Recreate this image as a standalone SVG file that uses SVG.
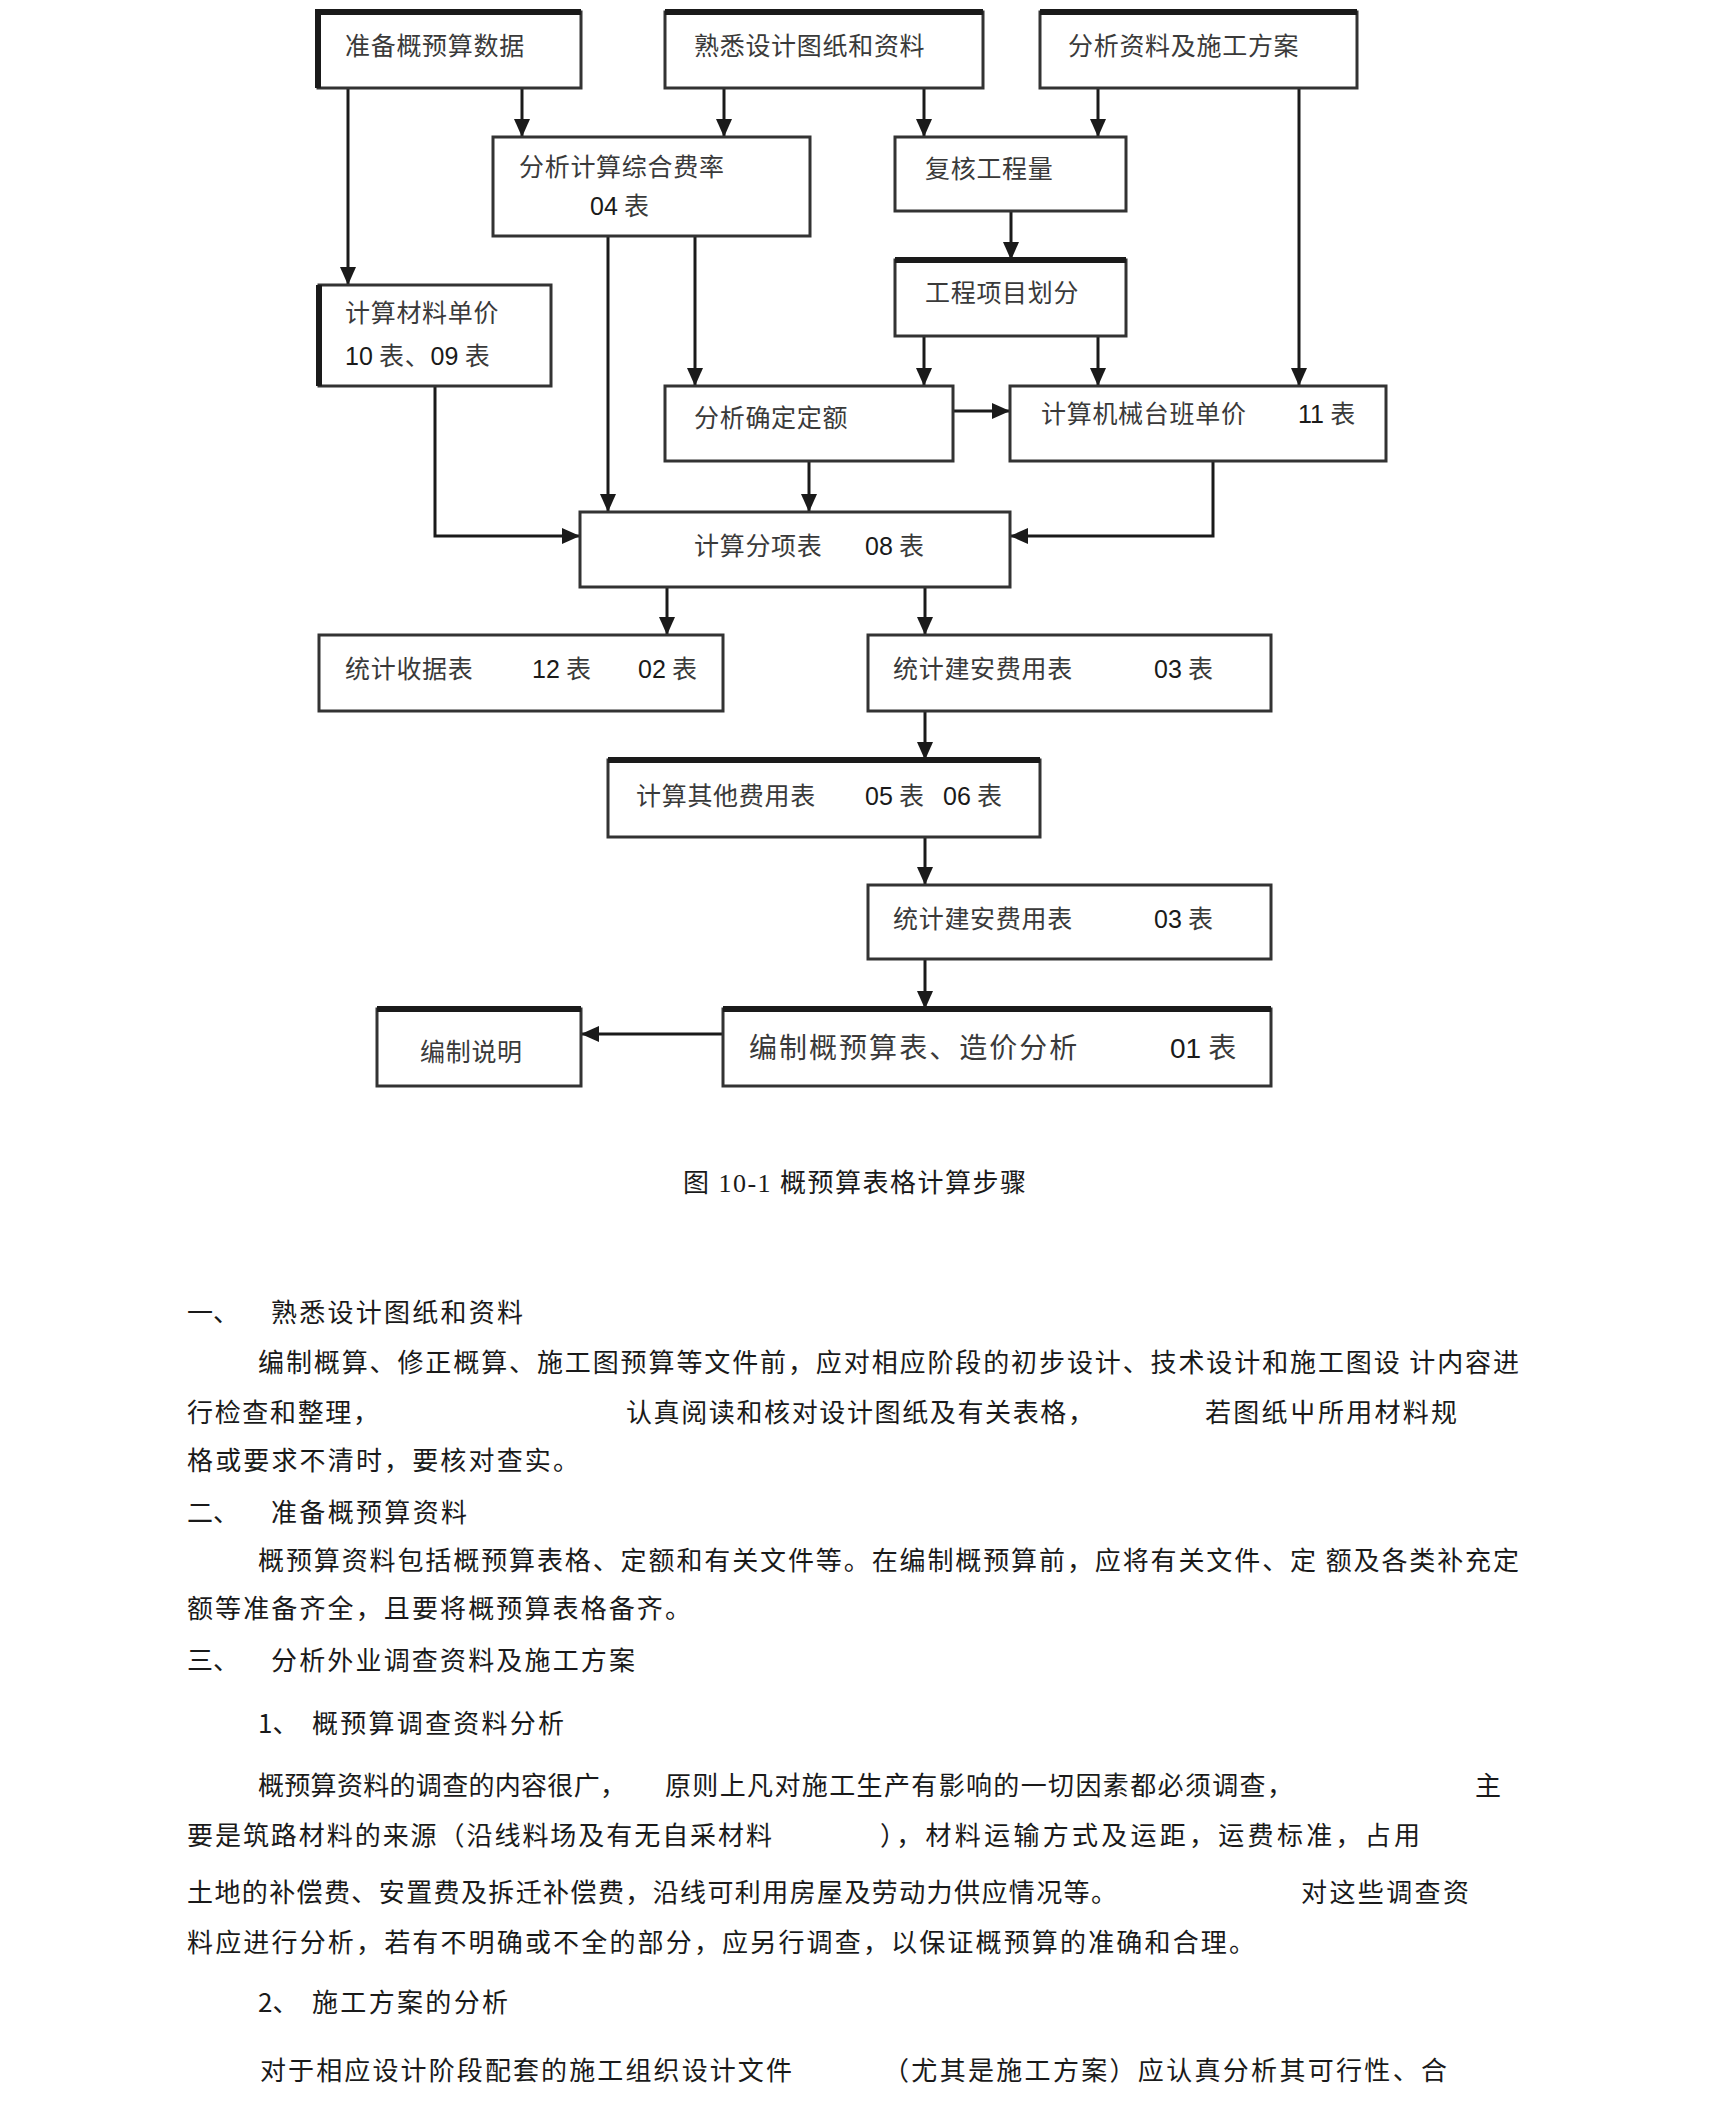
<svg xmlns="http://www.w3.org/2000/svg" width="1720" height="2112" viewBox="0 0 1720 2112">
<defs>
<marker id="ah" viewBox="0 0 18 16" refX="18" refY="8" markerWidth="18" markerHeight="16" markerUnits="userSpaceOnUse" orient="auto">
<path d="M0,0 L18,8 L0,16 z" fill="#1a1a1a"/>
</marker>
<style>
.box{fill:#fff;stroke:#333;stroke-width:3}
.thk{stroke:#1a1a1a;stroke-width:6;fill:none}
.t{font-family:"Noto Sans CJK SC","Noto Sans",sans-serif;font-size:25px;fill:#3a3a3a;letter-spacing:0.7px}
.d{font-family:"Liberation Sans","Noto Sans",sans-serif;fill:#1a1a1a;letter-spacing:0}
.c{fill:none;stroke:#1a1a1a;stroke-width:3;marker-end:url(#ah)}
.b{font-family:"Noto Sans CJK SC","Noto Sans",sans-serif;font-size:26px;fill:#1a1a1a}
.cap{font-family:"Liberation Serif","Noto Sans CJK SC",serif;font-size:26px;fill:#1a1a1a}
</style>
</defs>
<rect width="1720" height="2112" fill="#fff"/>

<g id="connectors">
<path class="c" d="M348,88 V285"/>
<path class="c" d="M522,88 V137"/>
<path class="c" d="M724,88 V137"/>
<path class="c" d="M924,88 V137"/>
<path class="c" d="M1098,88 V137"/>
<path class="c" d="M1299,88 V386"/>
<path class="c" d="M1011,211 V260"/>
<path class="c" d="M924,336 V386"/>
<path class="c" d="M1098,336 V386"/>
<path class="c" d="M608,236 V512"/>
<path class="c" d="M695,236 V386"/>
<path class="c" d="M953,411 H1010"/>
<path class="c" d="M809,461 V512"/>
<path class="c" d="M435,386 V536 H580"/>
<path class="c" d="M1213,461 V536 H1010"/>
<path class="c" d="M667,587 V635"/>
<path class="c" d="M925,587 V635"/>
<path class="c" d="M925,711 V760"/>
<path class="c" d="M925,837 V885"/>
<path class="c" d="M925,959 V1009"/>
<path class="c" d="M723,1034 H581"/>
</g>

<g id="n1">
<rect class="box" x="318" y="12" width="263" height="76"/>
<path class="thk" d="M318,88 V12 H581"/>
<text class="t" x="345" y="55">准备概预算数据</text>
</g>
<g id="n2">
<rect class="box" x="665" y="12" width="318" height="76"/>
<path class="thk" d="M665,12 H983"/>
<text class="t" x="694" y="55">熟悉设计图纸和资料</text>
</g>
<g id="n3">
<rect class="box" x="1040" y="12" width="317" height="76"/>
<path class="thk" d="M1040,12 H1357"/>
<text class="t" x="1068" y="55">分析资料及施工方案</text>
</g>
<g id="n4">
<rect class="box" x="493" y="137" width="317" height="99"/>
<text class="t" x="519" y="176">分析计算综合费率</text>
<text class="t" x="590" y="215"><tspan class="d">04</tspan> 表</text>
</g>
<g id="n5">
<rect class="box" x="895" y="137" width="231" height="74"/>
<text class="t" x="925" y="178">复核工程量</text>
</g>
<g id="n6">
<rect class="box" x="895" y="260" width="231" height="76"/>
<path class="thk" d="M895,260 H1126"/>
<text class="t" x="925" y="302">工程项目划分</text>
</g>
<g id="n7">
<rect class="box" x="319" y="285" width="232" height="101"/>
<path class="thk" d="M319,285 V386"/>
<text class="t" x="345" y="322">计算材料单价</text>
<text class="t" x="345" y="365"><tspan class="d">10</tspan> 表、<tspan class="d">09</tspan> 表</text>
</g>
<g id="n8">
<rect class="box" x="665" y="386" width="288" height="75"/>
<text class="t" x="694" y="427">分析确定定额</text>
</g>
<g id="n9">
<rect class="box" x="1010" y="386" width="376" height="75"/>
<text class="t" x="1041" y="423">计算机械台班单价</text>
<text class="t" x="1298" y="423"><tspan class="d">11</tspan> 表</text>
</g>
<g id="n10">
<rect class="box" x="580" y="512" width="430" height="75"/>
<text class="t" x="694" y="555">计算分项表</text>
<text class="t" x="865" y="555"><tspan class="d">08</tspan> 表</text>
</g>
<g id="n11">
<rect class="box" x="319" y="635" width="404" height="76"/>
<text class="t" x="345" y="678">统计收据表</text>
<text class="t" x="532" y="678"><tspan class="d">12</tspan> 表</text>
<text class="t" x="638" y="678"><tspan class="d">02</tspan> 表</text>
</g>
<g id="n12">
<rect class="box" x="868" y="635" width="403" height="76"/>
<text class="t" x="893" y="678">统计建安费用表</text>
<text class="t" x="1154" y="678"><tspan class="d">03</tspan> 表</text>
</g>
<g id="n13">
<rect class="box" x="608" y="760" width="432" height="77"/>
<path class="thk" d="M608,760 H1040"/>
<text class="t" x="636" y="805">计算其他费用表</text>
<text class="t" x="865" y="805"><tspan class="d">05</tspan> 表</text>
<text class="t" x="943" y="805"><tspan class="d">06</tspan> 表</text>
</g>
<g id="n14">
<rect class="box" x="868" y="885" width="403" height="74"/>
<text class="t" x="893" y="928">统计建安费用表</text>
<text class="t" x="1154" y="928"><tspan class="d">03</tspan> 表</text>
</g>
<g id="n15">
<rect class="box" x="723" y="1009" width="548" height="77"/>
<path class="thk" d="M723,1009 H1271"/>
<text class="t" x="749" y="1058" style="font-size:28px" textLength="329">编制概预算表、造价分析</text>
<text class="t" x="1170" y="1058" style="font-size:28px"><tspan class="d">01</tspan> 表</text>
</g>
<g id="n16">
<rect class="box" x="377" y="1009" width="204" height="77"/>
<path class="thk" d="M377,1009 H581"/>
<text class="t" x="420" y="1061">编制说明</text>
</g>

<text class="cap" x="683" y="1192" textLength="343">图 10-1 概预算表格计算步骤</text>

<g id="body">
<text class="b" x="187" y="1322">一、</text>
<text class="b" x="271" y="1322" textLength="252">熟悉设计图纸和资料</text>
<text class="b" x="258" y="1372" textLength="1261">编制概算、修正概算、施工图预算等文件前，应对相应阶段的初步设计、技术设计和施工图设 计内容进</text>
<text class="b" x="187" y="1422" textLength="192">行检查和整理，</text>
<text class="b" x="626" y="1422" textLength="468">认真阅读和核对设计图纸及有关表格，</text>
<text class="b" x="1205" y="1422" textLength="252">若图纸屮所用材料规</text>
<text class="b" x="187" y="1470" textLength="392">格或要求不清时，要核对查实。</text>
<text class="b" x="187" y="1522">二、</text>
<text class="b" x="271" y="1522" textLength="196">准备概预算资料</text>
<text class="b" x="258" y="1570" textLength="1261">概预算资料包括概预算表格、定额和有关文件等。在编制概预算前，应将有关文件、定 额及各类补充定</text>
<text class="b" x="187" y="1618" textLength="504">额等准备齐全，且要将概预算表格备齐。</text>
<text class="b" x="187" y="1670">三、</text>
<text class="b" x="271" y="1670" textLength="364">分析外业调查资料及施工方案</text>
<text class="b" x="258" y="1733">1、</text>
<text class="b" x="312" y="1733" textLength="252">概预算调查资料分析</text>
<text class="b" x="258" y="1795" textLength="368">概预算资料的调查的内容很广，</text>
<text class="b" x="665" y="1795" textLength="628">原则上凡对施工生产有影响的一切因素都必须调查，</text>
<text class="b" x="1475" y="1795">主</text>
<text class="b" x="187" y="1845" textLength="585">要是筑路材料的来源（沿线料场及有无自采材料</text>
<text class="b" x="880" y="1845" textLength="540">），材料运输方式及运距，运费标准，占用</text>
<text class="b" x="187" y="1902" textLength="930">土地的补偿费、安置费及拆迁补偿费，沿线可利用房屋及劳动力供应情况等。</text>
<text class="b" x="1301" y="1902" textLength="168">对这些调查资</text>
<text class="b" x="187" y="1952" textLength="1068">料应进行分析，若有不明确或不全的部分，应另行调查，以保证概预算的准确和合理。</text>
<text class="b" x="258" y="2012">2、</text>
<text class="b" x="312" y="2012" textLength="196">施工方案的分析</text>
<text class="b" x="260" y="2080" textLength="532">对于相应设计阶段配套的施工组织设计文件</text>
<text class="b" x="883" y="2080" textLength="564">（尤其是施工方案）应认真分析其可行性、合</text>
</g>
</svg>
